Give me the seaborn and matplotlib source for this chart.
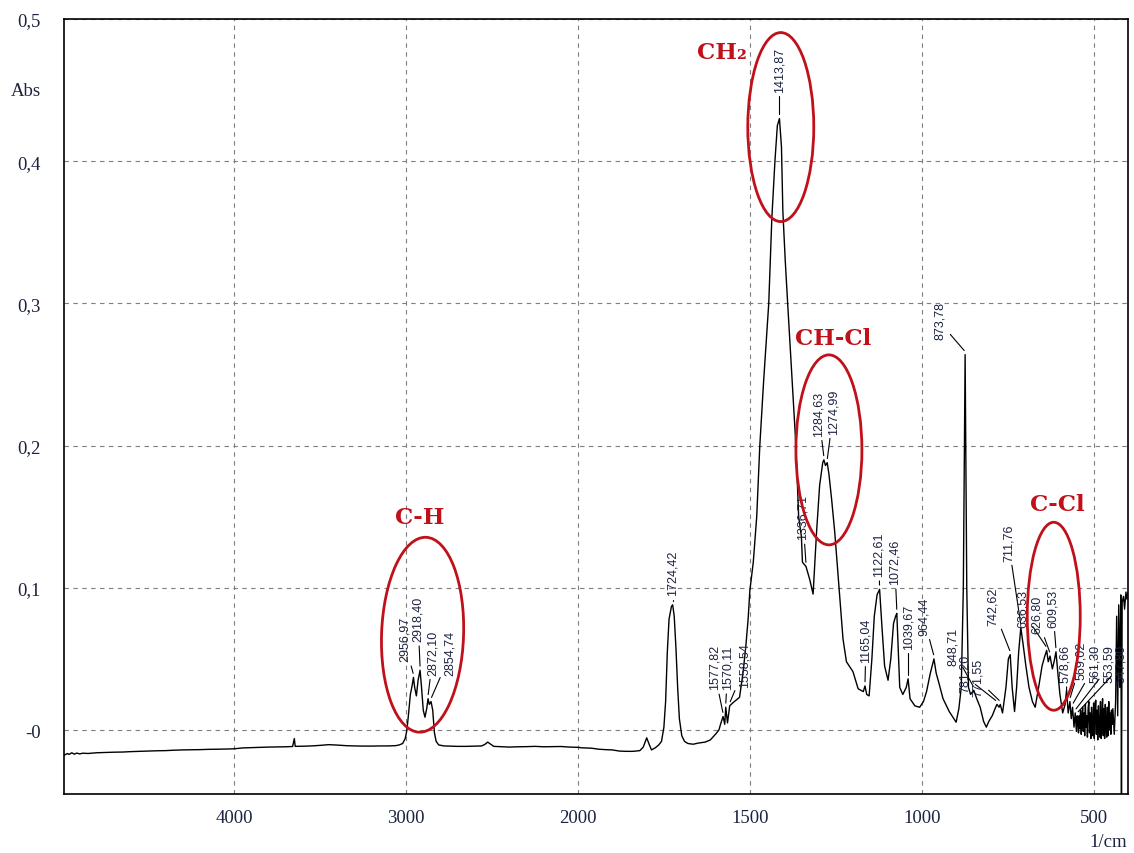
import numpy as np
import matplotlib
matplotlib.use("Agg")
import matplotlib.pyplot as plt
import matplotlib.transforms as mtransforms
from matplotlib.patches import Ellipse
import seaborn as sns

# ---------------------------------------------------------------- data
# FTIR absorbance spectrum, mid-IR part (wavenumber in 1/cm, absorbance)
mid_wavenumber = [
    4990, 4970, 4960, 4945, 4930, 4915, 4900, 4880, 4850, 4800, 4750, 4700,
    4650, 4600, 4550, 4500, 4450, 4400, 4350, 4300, 4250, 4200, 4150, 4100,
    4050, 4000, 3950, 3900, 3850, 3800, 3750, 3700, 3660, 3650, 3645, 3600,
    3550, 3500, 3450, 3400, 3350, 3300, 3250, 3200, 3150, 3100, 3060, 3040,
    3020, 3005, 2995, 2985, 2975, 2965, 2956.97, 2950, 2940, 2930, 2918.40,
    2910, 2900, 2890, 2880, 2872.10, 2865, 2854.74, 2845, 2835, 2825, 2810,
    2780, 2700, 2650, 2600, 2560, 2540, 2525, 2510, 2490, 2450, 2400, 2350,
    2300, 2250, 2200, 2150, 2100, 2050, 2000,
    1990, 1960, 1940, 1920, 1900, 1880, 1860, 1840, 1820, 1810, 1800, 1793,
    1786, 1775, 1765, 1757, 1750, 1745, 1740, 1735, 1728, 1724.42, 1720,
    1715, 1710, 1705, 1698, 1690, 1680, 1665, 1650, 1630, 1615, 1600, 1590,
    1584, 1577.82, 1573, 1570.11, 1565, 1558.54, 1550, 1540, 1530, 1520,
    1512, 1505, 1500, 1490, 1480, 1471, 1460, 1445, 1436, 1427, 1420,
    1413.87, 1408, 1404, 1397, 1390, 1378, 1366, 1358, 1350, 1347, 1336.71,
    1326, 1316, 1306, 1297, 1288, 1284.63, 1280, 1274.99, 1270, 1262, 1253,
    1238, 1229, 1219, 1200, 1185, 1170, 1165.04, 1160, 1153, 1145, 1138,
    1130, 1122.61, 1115, 1108, 1098, 1090, 1082, 1076, 1072.46, 1068, 1064,
    1055, 1045, 1039.67, 1034, 1020, 1006, 995, 986, 975, 964.44, 958, 950,
    938, 920, 900, 892, 885, 879, 873.78, 869, 864, 858, 848.71, 840, 830,
    820, 812, 805, 795, 785, 781.20, 775, 771.55, 765, 755, 748, 742.62, 737,
    730, 724, 718, 711.76, 705, 697, 688, 678, 670, 660, 650, 642, 636.53,
    632, 626.80, 620, 615, 609.53, 604, 598, 590, 583, 578.66, 574, 569.02,
    565, 561.30, 557, 553.59, 550, 547.80,
]
mid_absorbance = [
    -0.0178, -0.0165, -0.0172, -0.0160, -0.0170, -0.0162, -0.0168, -0.0163,
    -0.0165, -0.0160, -0.0158, -0.0156, -0.0155, -0.0152, -0.0150, -0.0148,
    -0.0146, -0.0145, -0.0142, -0.0140, -0.0139, -0.0138, -0.0136, -0.0135,
    -0.0134, -0.0132, -0.0126, -0.0124, -0.0122, -0.0120, -0.0119, -0.0118,
    -0.0116, -0.0060, -0.0115, -0.0114, -0.0112, -0.0108, -0.0103, -0.0106,
    -0.0110, -0.0112, -0.0113, -0.0113, -0.0112, -0.0112, -0.0110, -0.0105,
    -0.0095, -0.0060, 0.0000, 0.0120, 0.0250, 0.0310, 0.0370, 0.0300,
    0.0240, 0.0350, 0.0420, 0.0300, 0.0140, 0.0090, 0.0150, 0.0220, 0.0180,
    0.0200, 0.0140, -0.0020, -0.0080, -0.0105, -0.0112, -0.0115, -0.0115,
    -0.0113, -0.0112, -0.0100, -0.0085, -0.0098, -0.0115, -0.0117, -0.0120,
    -0.0118, -0.0117, -0.0115, -0.0118, -0.0117, -0.0116, -0.0120, -0.0122,
    -0.0125, -0.0128, -0.0135, -0.0138, -0.0140, -0.0148, -0.0150, -0.0150,
    -0.0145, -0.0120, -0.0055, -0.0100, -0.0140, -0.0125, -0.0105, -0.0080,
    0.0020, 0.0200, 0.0550, 0.0780, 0.0870, 0.0880, 0.0800, 0.0580, 0.0300,
    0.0080, -0.0040, -0.0080, -0.0095, -0.0100, -0.0092, -0.0085, -0.0070,
    -0.0030, 0.0000, 0.0050, 0.0095, 0.0040, 0.0160, 0.0050, 0.0170, 0.0190,
    0.0210, 0.0230, 0.0400, 0.0580, 0.0780, 0.0980, 0.1180, 0.1500, 0.2000,
    0.2450, 0.3000, 0.3600, 0.4000, 0.4250, 0.4300, 0.4100, 0.3650, 0.3300,
    0.3000, 0.2500, 0.2000, 0.1500, 0.1360, 0.1180, 0.1150, 0.1060, 0.0956,
    0.1390, 0.1720, 0.1880, 0.1900, 0.1860, 0.1880, 0.1800, 0.1620, 0.1390,
    0.0920, 0.0640, 0.0480, 0.0410, 0.0290, 0.0270, 0.0310, 0.0250, 0.0240,
    0.0500, 0.0800, 0.0950, 0.0990, 0.0700, 0.0450, 0.0350, 0.0500, 0.0750,
    0.0800, 0.0820, 0.0550, 0.0300, 0.0250, 0.0300, 0.0360, 0.0220, 0.0170,
    0.0160, 0.0200, 0.0270, 0.0400, 0.0500, 0.0400, 0.0330, 0.0220, 0.0130,
    0.0055, 0.0150, 0.0300, 0.1000, 0.2640, 0.1000, 0.0300, 0.0250, 0.0280,
    0.0220, 0.0160, 0.0060, 0.0020, 0.0060, 0.0100, 0.0160, 0.0180, 0.0160,
    0.0180, 0.0120, 0.0300, 0.0500, 0.0530, 0.0300, 0.0130, 0.0300, 0.0550,
    0.0720, 0.0600, 0.0450, 0.0300, 0.0200, 0.0160, 0.0300, 0.0450, 0.0520,
    0.0560, 0.0480, 0.0520, 0.0430, 0.0480, 0.0550, 0.0400, 0.0250, 0.0120,
    0.0180, 0.0280, 0.0120, 0.0200, 0.0080, 0.0160, 0.0020, 0.0120, -0.0010,
    0.0100,
]

# noisy far end of the spectrum (below 547 1/cm)
far_wavenumber = [
    546, 544, 542, 540, 538, 536, 534, 532, 530, 528, 526, 524, 522, 520,
    518, 516, 514, 512, 510, 508, 506, 504, 502, 500, 498, 496, 494, 492,
    490, 488, 486, 484, 482, 480, 478, 476, 474, 472, 470, 468, 466, 464,
    462, 460, 458, 456, 454, 452, 450, 448, 446, 444, 440, 436, 433, 430,
    427, 424, 421, 419, 417, 413, 410, 406, 403, 400,
]
far_absorbance = [
    0.006, -0.002, 0.010, 0.001, 0.014, -0.003, 0.008, 0.016, -0.001, 0.012,
    -0.004, 0.018, 0.002, 0.010, -0.005, 0.015, 0.020, -0.002, 0.012, -0.006,
    0.016, 0.003, -0.004, 0.019, -0.006, 0.011, 0.021, -0.003, 0.014, -0.007,
    0.017, 0.004, -0.005, 0.020, -0.006, 0.010, 0.022, -0.004, 0.015, -0.006,
    0.018, 0.002, -0.005, 0.016, -0.004, 0.020, 0.000, 0.012, -0.003, 0.014,
    0.004, 0.015, -0.003, 0.020, 0.080, 0.010, 0.088, 0.030, 0.095, -0.045,
    0.090, 0.094, 0.085, 0.097, 0.092, 0.097,
]

# labelled band positions (1/cm)
peak_positions = [
    2956.97, 2918.40, 2872.10, 2854.74, 1724.42, 1577.82, 1570.11, 1558.54,
    1413.87, 1336.71, 1284.63, 1274.99, 1165.04, 1122.61, 1072.46, 1039.67,
    964.44, 873.78, 848.71, 781.20, 771.55, 742.62, 711.76, 636.53, 626.80,
    609.53, 578.66, 569.02, 561.30, 553.59, 547.80,
]

# functional-group assignments: name, band centre (1/cm), absorbance centre
group_names = ["C-H", "CH\u2082", "CH-Cl", "C-Cl"]
group_centres = [2904, 1410, 1270, 616]
group_levels = [0.067, 0.424, 0.197, 0.080]

x_ticks = [4000, 3000, 2000, 1500, 1000, 500]
x_tick_labels = ["4000", "3000", "2000", "1500", "1000", "500"]
y_ticks = [0.0, 0.1, 0.2, 0.3, 0.4, 0.5]
y_tick_labels = ["-0", "0,1", "0,2", "0,3", "0,4", "0,5"]

# ---------------------------------------------------------------- layout
# label offsets from each band top, in pixels (dx right, dy down)
label_offsets = [
    (-9, -16), (-2, -29), (5, -24), (19, -27), (0, -10), (-9, -27), (2, -18),
    (15, -19), (0, -27), (-3, -27), (-5, -24), (6, -29), (1, -24), (-1, -13),
    (-2, -29), (0, -30), (-10, -24), (-25, -16), (-21, -25), (-32, -12),
    (-22, -8), (-17, -30), (-12, -67), (-24, -23), (-13, -23), (-3, -25),
    (-2, -8), (11, -23), (22, -25), (34, -31), (44, -34),
]
# group text positions (wavenumber, absorbance) and ellipse sizes in pixels
group_text_pos = [(2918, 0.150), (1581, 0.477), (1259, 0.276), (605, 0.159)]
ellipse_sizes = [(82, 195, -2.0), (66, 189, 0.0), (66, 190, 0.0), (53, 188, 0.0)]

RED = "#c0101a"
TXT = "#1c2340"

sns.set_theme(style="white")
plt.rcParams["font.family"] = ["Liberation Serif", "DejaVu Sans"]

wavenumber = mid_wavenumber + far_wavenumber
absorbance = mid_absorbance + far_absorbance

W, H = 1134, 854
fig = plt.figure(figsize=(W / 100, H / 100), dpi=100)
ax = fig.add_axes([64 / W, 59 / H, 1064 / W, 775 / H])
ax.set_facecolor("white")

sns.lineplot(x=wavenumber, y=absorbance, sort=False, estimator=None,
             color="black", linewidth=1.0, ax=ax)


# wavenumber axis is expanded 2x below 2000 1/cm
def fwd(x):
    x = np.asarray(x, dtype=float)
    return np.where(x > 2000, 2000 + (x - 2000) / 2.0, x)


def inv(t):
    t = np.asarray(t, dtype=float)
    return np.where(t > 2000, 2000 + (t - 2000) * 2.0, t)


ax.set_xscale("function", functions=(fwd, inv))
ax.set_xlim(4990, 400)
ax.set_ylim(-0.045, 0.5)

minor_x = [v for v in range(2200, 4990, 200) if v % 1000] + \
          [v for v in range(400, 2000, 100) if v % 500]
ax.set_xticks(x_ticks)
ax.set_xticklabels(x_tick_labels)
ax.set_xticks(minor_x, minor=True)
ax.set_yticks(y_ticks)
ax.set_yticklabels(y_tick_labels)
ax.set_yticks(np.arange(-0.04, 0.5, 0.02), minor=True)
ax.set_xlabel("")
ax.set_ylabel("")

ax.tick_params(axis="both", which="both", direction="out", colors="black",
               labelcolor=TXT, labelsize=13.5, width=1.0)
ax.tick_params(axis="x", which="major", length=10, pad=1)
ax.tick_params(axis="y", which="major", length=11.5, pad=5)
ax.tick_params(axis="both", which="minor", length=5.5)

ax.grid(True, which="major", color="#7f7f7f", linestyle=(0, (4, 4)), linewidth=0.8)
ax.set_axisbelow(True)
for s in ax.spines.values():
    s.set_visible(True)
    s.set_color("black")
    s.set_linewidth(1.2)

# band labels with leader lines
wn_asc = np.array(wavenumber[::-1], dtype=float)
ab_asc = np.array(absorbance[::-1], dtype=float)
for wn, (dx, dy) in zip(peak_positions, label_offsets):
    a = float(np.interp(wn, wn_asc, ab_asc))
    ax.annotate(f"{wn:.2f}".replace(".", ","), xy=(wn, a),
                xytext=(dx * 0.72, -dy * 0.72), textcoords="offset points",
                rotation=90, ha="center", va="bottom", fontsize=9,
                family=["Liberation Sans", "DejaVu Sans"], color=TXT,
                arrowprops=dict(arrowstyle="-", color="black", lw=0.8,
                                shrinkA=1, shrinkB=3,
                                connectionstyle="arc,angleA=-90,angleB=90,armA=3,armB=3,rad=0"))

# functional-group highlights
for name, c, lvl, (tx, ty), (w, h, ang) in zip(group_names, group_centres, group_levels,
                                                group_text_pos, ellipse_sizes):
    cx, cy = ax.transData.transform((c, lvl))
    ax.add_patch(Ellipse((cx, cy), w, h, angle=ang, fill=False, edgecolor=RED,
                         linewidth=2.0, transform=mtransforms.IdentityTransform(),
                         zorder=5))
    ax.text(tx, ty, name, ha="center", va="center", color=RED, fontsize=16.5,
            fontweight="bold", family=["DejaVu Serif", "DejaVu Sans"], zorder=6)

fig.text(26 / W, 1 - 92 / H, "Abs", ha="center", va="center", fontsize=13.5, color=TXT)
fig.text(1108 / W, 1 - 843 / H, "1/cm", ha="center", va="center", fontsize=13.5, color=TXT)

fig.savefig("out.png", dpi=100, facecolor="white")
